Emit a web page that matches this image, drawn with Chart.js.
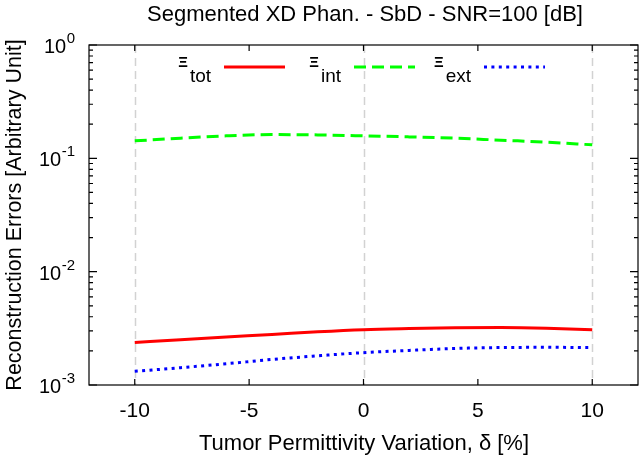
<!DOCTYPE html>
<html lang="en">
<head>
    <meta charset="UTF-8">
    <title>Segmented XD Phan. - SbD - SNR=100 [dB]</title>
    <script src="https://cdn.jsdelivr.net/npm/chart.js@4.4.0/dist/chart.umd.min.js"></script>
    <style>
        html, body { margin: 0; padding: 0; background: #fff; }
        #wrap { position: relative; width: 640px; height: 455px; }
    </style>
</head>
<body>
<div id="wrap"><canvas id="chart"></canvas></div>
<script>
  // tumor permittivity variation (%) and the three error curves
  const deltaPct = [-10, -8, -6, -4, -2, 0, 2, 4, 6, 8, 10];
  const errTot = [0.00237, 0.00251, 0.00265, 0.00279, 0.00295, 0.00308, 0.00315, 0.00320, 0.00321, 0.00317, 0.00308];
  const errInt = [0.1426, 0.1507, 0.158, 0.162, 0.161, 0.158, 0.1546, 0.1507, 0.1446, 0.139, 0.1315];
  const errExt = [0.00132, 0.00142, 0.00154, 0.00168, 0.00181, 0.00193, 0.00202, 0.00210, 0.00214, 0.00215, 0.00214];

  const xTicks = [-10, -5, 0, 5, 10];
  const xGridAt = [-10, 0, 10];
  const yDecades = [1e-3, 1e-2, 1e-1, 1e0];
  const yExponents = ['-3', '-2', '-1', '0'];

  const seriesNames = ['tot', 'int', 'ext'];
  const seriesColors = ['#ff0000', '#00ff00', '#0000ff'];
  const seriesDash = [[], [12, 6], [3, 4.4]];

  const FONT = '"Liberation Sans", Arial, Helvetica, sans-serif';

  const toPts = arr => deltaPct.map((d, i) => ({ x: d, y: arr[i] }));

  // gnuplot-like frame, ticks, labels and legend
  const gnuFrame = {
    id: 'gnuFrame',
    beforeDatasetsDraw(chart) {
      const { ctx, chartArea: a, scales: { x } } = chart;
      ctx.save();
      ctx.strokeStyle = '#d2d2d2';
      ctx.lineWidth = 1.5;
      ctx.setLineDash([8, 5]);
      xGridAt.forEach(v => {
        const px = Math.round(x.getPixelForValue(v)) + 0.5;
        ctx.beginPath();
        ctx.moveTo(px, a.top);
        ctx.lineTo(px, a.bottom);
        ctx.stroke();
      });
      ctx.restore();
    },
    afterDatasetsDraw(chart) {
      const { ctx, chartArea: a, scales: { x, y } } = chart;
      ctx.save();
      ctx.strokeStyle = '#000';
      ctx.lineWidth = 1.2;
      ctx.setLineDash([]);
      ctx.strokeRect(a.left, a.top, a.right - a.left, a.bottom - a.top);

      ctx.beginPath();
      // x ticks, inward, bottom and top
      xTicks.forEach(v => {
        const px = x.getPixelForValue(v);
        ctx.moveTo(px, a.bottom); ctx.lineTo(px, a.bottom - 6);
        ctx.moveTo(px, a.top); ctx.lineTo(px, a.top + 6);
      });
      // y ticks: majors at decades, minors 2..9
      yDecades.forEach((dec, k) => {
        const py = y.getPixelForValue(dec);
        ctx.moveTo(a.left, py); ctx.lineTo(a.left + 8, py);
        ctx.moveTo(a.right, py); ctx.lineTo(a.right - 8, py);
        if (k < yDecades.length - 1) {
          for (let m = 2; m <= 9; m++) {
            const pm = y.getPixelForValue(dec * m);
            ctx.moveTo(a.left, pm); ctx.lineTo(a.left + 4, pm);
            ctx.moveTo(a.right, pm); ctx.lineTo(a.right - 4, pm);
          }
        }
      });
      ctx.stroke();

      ctx.fillStyle = '#000';
      // x tick labels
      ctx.font = '21px ' + FONT;
      ctx.textAlign = 'center';
      ctx.textBaseline = 'alphabetic';
      xTicks.forEach(v => ctx.fillText(String(v), x.getPixelForValue(v), 417));

      // y tick labels as 10^n
      yDecades.forEach((dec, k) => {
        const py = y.getPixelForValue(dec);
        ctx.font = '15px ' + FONT;
        const ew = ctx.measureText(yExponents[k]).width;
        const right = 75;
        ctx.textAlign = 'left';
        ctx.fillText(yExponents[k], right - ew, py - 2);
        ctx.font = '20px ' + FONT;
        ctx.textAlign = 'right';
        ctx.fillText('10', right - ew - 0.5, py + 8);
      });

      // titles
      ctx.textAlign = 'center';
      ctx.font = '22px ' + FONT;
      ctx.fillText('Segmented XD Phan. - SbD - SNR=100 [dB]', 365, 21);
      ctx.fillText('Tumor Permittivity Variation, \u03b4 [%]', 364, 450);
      ctx.font = '21.5px ' + FONT;
      ctx.save();
      ctx.translate(21, 215);
      ctx.rotate(-Math.PI / 2);
      ctx.fillText('Reconstruction Errors [Arbitrary Unit]', 0, 0);
      ctx.restore();

      // legend: symbol + subscript, then sample line
      const sampleX = [224, 354, 484];
      const sampleLen = 61;
      const ly = 67;
      seriesNames.forEach((name, i) => {
        const x0 = sampleX[i];
        ctx.font = '19px ' + FONT;
        const sw = ctx.measureText(name).width;
        ctx.textAlign = 'left';
        ctx.fillText(name, x0 - 13 - sw, 82);
        ctx.font = 'bold 15px ' + FONT;
        const xw = ctx.measureText('\u039e').width;
        ctx.fillText('\u039e', x0 - 13 - sw - xw - 2, 67);
        ctx.strokeStyle = seriesColors[i];
        ctx.lineWidth = 3;
        ctx.setLineDash(seriesDash[i]);
        ctx.beginPath();
        ctx.moveTo(x0, ly);
        ctx.lineTo(x0 + sampleLen, ly);
        ctx.stroke();
      });
      ctx.restore();
    }
  };

  const mk = (arr, i) => ({
    label: seriesNames[i],
    data: toPts(arr),
    borderColor: seriesColors[i],
    borderWidth: 3,
    borderDash: seriesDash[i],
    borderCapStyle: 'butt',
    pointRadius: 0,
    fill: false,
    cubicInterpolationMode: 'monotone'
  });

  new Chart(document.getElementById('chart'), {
    type: 'line',
    data: {
      datasets: [mk(errTot, 0), mk(errInt, 1), mk(errExt, 2)]
    },
    options: {
      responsive: true,
      maintainAspectRatio: false,
      animation: false,
      layout: { padding: { left: 89, right: 2, top: 45, bottom: 70 } },
      plugins: { legend: { display: false }, tooltip: { enabled: false } },
      scales: {
        x: { type: 'linear', min: -12, max: 12, display: false },
        y: { type: 'logarithmic', min: 1e-3, max: 1, display: false }
      }
    },
    plugins: [gnuFrame]
  });
</script>
</body>
</html>
